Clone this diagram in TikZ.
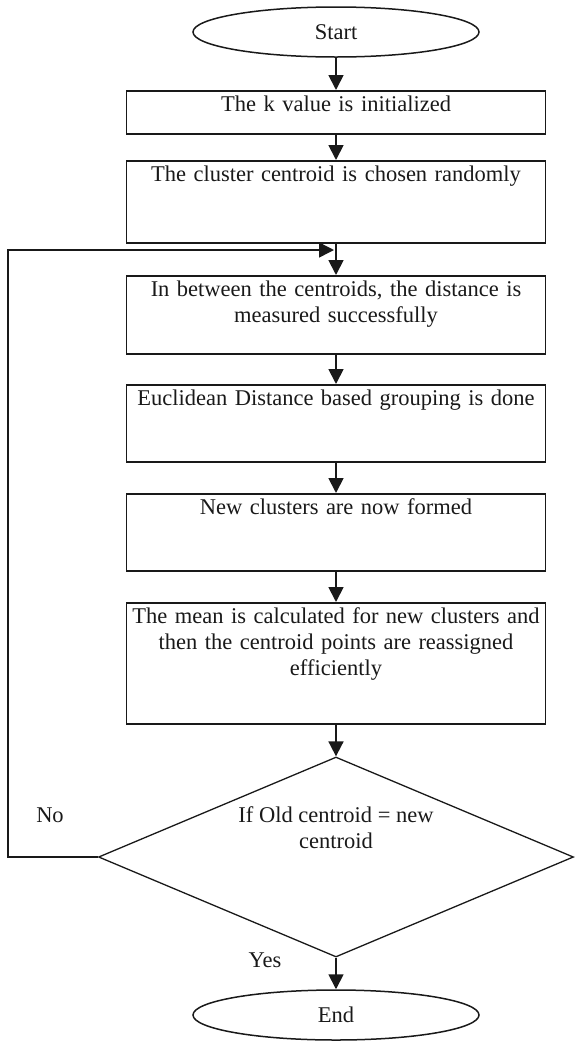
\documentclass[tikz,border=0pt]{standalone}
\usepackage{fontspec}
\setmainfont{Liberation Serif}
\usetikzlibrary{shapes.geometric,arrows.meta,positioning}

\begin{document}
\begin{tikzpicture}[
    x=1pt, y=-1pt,
    every node/.style={font=\fontsize{22.5}{26}\selectfont, text=black!90},
    terminal/.style={
      ellipse, draw=black!90, line width=1.5pt,
      minimum width=286pt, minimum height=50pt, inner sep=0pt
    },
    stepbox/.style={
      rectangle, draw=black!90, line width=1.8pt,
      minimum width=419pt, text width=413pt, align=center,
      inner xsep=3pt, inner ysep=0pt, text height=21pt, anchor=north
    },
    decision/.style={
      diamond, draw=black!90, line width=1.3pt, aspect=2.4,
      minimum width=475pt, minimum height=200pt,
      inner sep=0pt, align=center
    },
    arr/.style={-{Triangle[length=15pt, width=15pt]}, line width=1.8pt, draw=black!90},
    tag/.style={inner sep=0pt}
  ]
  \useasboundingbox (0,0) rectangle (575,1042);

  % Start / end
  \node[terminal] (start) at (336,32) {Start};
  \node[terminal] (stop) at (336,1015) {End};

  % Steps of the loop
  \node[stepbox, text depth=22pt] (initk) at (336,90) {The k value is initialized};
  \node[stepbox, text depth=61pt] (pick) at (336,160) {The cluster centroid is chosen randomly};
  \node[stepbox, text depth=57pt] (measure) at (336,275)
    {In between the centroids, the distance is\\measured successfully};
  \node[stepbox, text depth=56pt] (group) at (336,384) {Euclidean Distance based grouping is done};
  \node[stepbox, text depth=56pt] (form) at (336,493) {New clusters are now formed};
  \node[stepbox, text depth=100pt] (update) at (336,602)
    {The mean is calculated for new clusters and\\then the centroid points are reassigned\\efficiently};

  % Convergence test
  \node[decision, text height=40pt, text depth=58pt] (check) at (336,857)
    {If Old centroid = new\\centroid};

  \node[tag] (nolbl) at (50,815) {No};
  \node[tag] (yeslbl) at (265,960) {Yes};

  % Arrows
  \draw[arr] (start) -- (initk);
  \draw[arr] (initk) -- (pick);
  \draw[arr] (pick) -- (measure);
  \draw[arr] (measure) -- (group);
  \draw[arr] (group) -- (form);
  \draw[arr] (form) -- (update);
  \draw[arr] (update) -- (check);
  \draw[arr] (check) -- (stop);

  % Back to the distance step
  \coordinate (rejoin) at (334,250);
  \draw[arr, line width=1.5pt] (check.west) -- ++(-90,0) |- (rejoin);

\end{tikzpicture}
\end{document}
